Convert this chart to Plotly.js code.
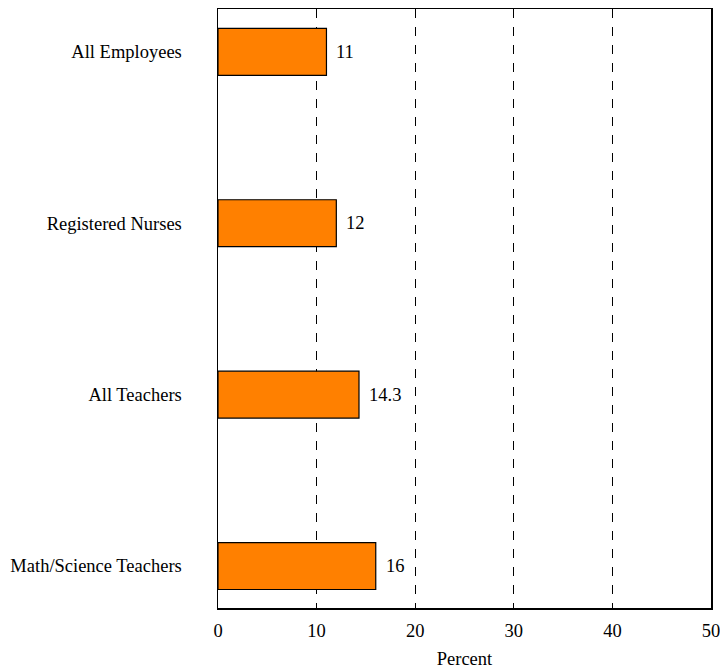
<!DOCTYPE html>
<html>
<head>
<meta charset="utf-8">
<script src="https://cdn.plot.ly/plotly-3.0.1.min.js"></script>
<style>html,body{margin:0;padding:0;background:#fff;}#chart{width:720px;height:669px;}</style>
</head>
<body>
<div id="chart"></div>
<script>
const categories = ["All Employees", "Registered Nurses", "All Teachers", "Math/Science Teachers"];
const values = [11, 12, 14.3, 16];
const valueLabels = ["11", "12", "14.3", "16"];
const xTicks = [0, 10, 20, 30, 40, 50];

const FONT = "'Liberation Serif', 'Times New Roman', serif";
const FS = 18.5;

const trace = {
  type: "bar",
  orientation: "h",
  y: categories,
  x: values,
  width: 0.274,
  marker: {color: "#FF8000", line: {color: "#000", width: 1.2}},
  hoverinfo: "none"
};

const annotations = categories.map((c, i) => ({
  x: values[i], y: c, text: valueLabels[i], showarrow: false,
  xanchor: "left", yanchor: "middle", xshift: 8,
  font: {family: FONT, size: FS, color: "#000"}
}));

const layout = {
  width: 720, height: 669,
  margin: {l: 218, r: 9, t: 9, b: 61},
  paper_bgcolor: "#fff", plot_bgcolor: "#fff",
  font: {family: FONT, size: FS, color: "#000"},
  showlegend: false,
  xaxis: {
    range: [0, 50], tickvals: xTicks, ticktext: xTicks.map(String),
    showgrid: true, gridcolor: "#000", griddash: "dash", gridwidth: 1,
    zeroline: false, showline: true, linecolor: "#000", linewidth: 1.5, mirror: true,
    ticks: "", ticklabelstandoff: 5, ticklabeloverflow: "allow",
    title: {text: "Percent", standoff: 14, font: {family: FONT, size: FS}}
  },
  yaxis: {
    type: "category", range: [3.245, -0.25],
    showgrid: false, zeroline: false, showline: true, linecolor: "#000", linewidth: 1.5, mirror: true,
    ticks: "", ticklabelstandoff: 31
  },
  annotations: annotations
};

Plotly.newPlot("chart", [trace], layout, {staticPlot: true, displayModeBar: false});
</script>
</body>
</html>
